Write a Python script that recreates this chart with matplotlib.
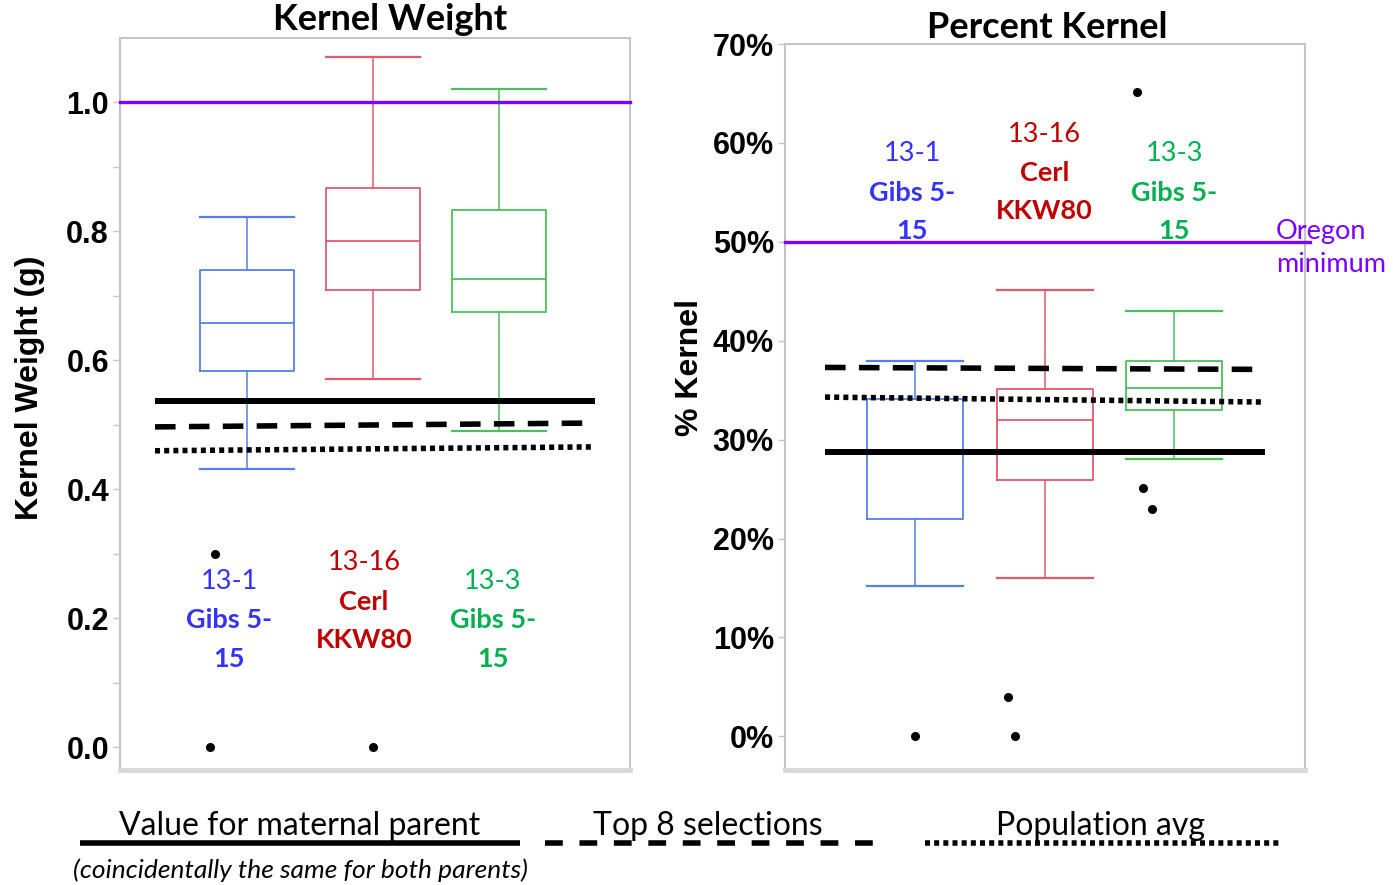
import matplotlib
matplotlib.use("Agg")
import matplotlib.pyplot as plt
from matplotlib.lines import Line2D

# ---- data ----
groups = ["13-1", "13-16", "13-3"]
parent_l1 = ["Gibs 5-", "Cerl", "Gibs 5-"]
parent_l2 = ["15", "KKW80", "15"]

# Kernel weight (g)
kw_low = [0.431, 0.571, 0.490]
kw_q1 = [0.584, 0.709, 0.675]
kw_med = [0.658, 0.786, 0.727]
kw_q3 = [0.740, 0.868, 0.834]
kw_high = [0.823, 1.070, 1.021]
kw_fliers = [[0.30, 0.0], [0.0], []]
kw_flier_dx = [[-0.25, -0.29], [0.0], []]
kw_maternal = [0.537, 0.537]
kw_top8 = [0.497, 0.503]
kw_popavg = [0.460, 0.466]
kw_oregon = 1.0
kw_ticks = [0.0, 0.2, 0.4, 0.6, 0.8, 1.0]
kw_ticklabels = ["0.0", "0.2", "0.4", "0.6", "0.8", "1.0"]

# Percent kernel (%)
pk_low = [15.2, 16.0, 28.0]
pk_q1 = [22.0, 25.9, 33.0]
pk_med = [29.0, 32.0, 35.2]
pk_q3 = [34.1, 35.1, 38.0]
pk_high = [38.0, 45.1, 43.0]
pk_fliers = [[0.0], [4.0, 0.0], [65.1, 25.1, 23.0]]
pk_flier_dx = [[0.0], [-0.28, -0.23], [-0.29, -0.24, -0.17]]
pk_maternal = [28.8, 28.8]
pk_top8 = [37.3, 37.1]
pk_popavg = [34.3, 33.8]
pk_oregon = 50.0
pk_ticks = [0, 10, 20, 30, 40, 50, 60, 70]
pk_ticklabels = ["0%", "10%", "20%", "30%", "40%", "50%", "60%", "70%"]

# ---- styling ----
box_colors = ["#5580E6", "#E05A6E", "#4CBF5A"]
text_colors = ["#3333FF", "#C00000", "#00B050"]
purple = "#7A00FF"
frame = "#C4C4C4"
SANS = ["Lato", "DejaVu Sans"]
NARROW = ["Liberation Sans Narrow", "DejaVu Sans Condensed", "Liberation Sans"]
BOLD = ["Liberation Sans", "DejaVu Sans"]

W, H = 1393, 885
fig = plt.figure(figsize=(W / 100, H / 100), dpi=100)
ax1 = fig.add_axes([120 / W, 1 - 770 / H, 510 / W, 732 / H])
ax2 = fig.add_axes([785 / W, 1 - 770 / H, 520 / W, 726 / H])

pos = [1, 2, 3]


def draw_panel(ax, low, q1, med, q3, high, fliers, fdx, maternal, top8, popavg,
               oregon, ticks, ticklabels, ylim, xlim, line_span, oregon_span):
    for i in range(3):
        st = [dict(whislo=low[i], q1=q1[i], med=med[i], q3=q3[i],
                   whishi=high[i], fliers=[])]
        c = box_colors[i]
        ax.bxp(st, positions=[pos[i]], widths=0.74, capwidths=0.74,
               showfliers=False,
               boxprops=dict(color=c, linewidth=1.3),
               medianprops=dict(color=c, linewidth=1.3),
               whiskerprops=dict(color=c, linewidth=1.1),
               capprops=dict(color=c, linewidth=1.6))
        xs = [pos[i] + d for d in fdx[i]]
        ax.plot(xs, fliers[i], linestyle="none", marker="o", markersize=5.5,
                color="black", zorder=5)
    ax.plot(oregon_span, [oregon, oregon], color=purple, lw=2.4,
            clip_on=False, zorder=4)
    ax.plot(line_span, maternal, color="black", lw=4.3,
            solid_capstyle="butt", zorder=4)
    ax.plot(line_span, top8, color="black", lw=4.0,
            linestyle=(0, (3.7, 2.4)), dash_capstyle="butt", zorder=4)
    ax.plot(line_span, popavg, color="black", lw=4.0,
            linestyle=(0, (0.9, 0.75)), dash_capstyle="butt", zorder=4)
    ax.set_ylim(*ylim)
    ax.set_xlim(*xlim)
    ax.set_xticks([])
    ax.set_yticks(ticks)
    ax.set_yticklabels(ticklabels, family=NARROW, fontweight="bold",
                       fontsize=22)
    ax.tick_params(axis="y", which="both", color=frame, length=5, width=1,
                   pad=3)
    for s in ["left", "right", "top"]:
        ax.spines[s].set_color(frame)
        ax.spines[s].set_linewidth(1.5)
    ax.spines["bottom"].set_color("#D8D8D8")
    ax.spines["bottom"].set_linewidth(3.5)


draw_panel(ax1, kw_low, kw_q1, kw_med, kw_q3, kw_high, kw_fliers, kw_flier_dx,
           kw_maternal, kw_top8, kw_popavg, kw_oregon, kw_ticks, kw_ticklabels,
           (-0.035, 1.10), (-0.008, 4.04), [0.27, 3.76], [-0.008, 4.04])
ax1.set_yticks([0.1, 0.3, 0.5, 0.7, 0.9], minor=True)

draw_panel(ax2, pk_low, pk_q1, pk_med, pk_q3, pk_high, pk_fliers, pk_flier_dx,
           pk_maternal, pk_top8, pk_popavg, pk_oregon, pk_ticks, pk_ticklabels,
           (-3.4, 70.0), (-0.004, 4.01), [0.305, 3.70], [-0.004, 4.05])

# group labels inside the panels
kw_label_y = [[0.258, 0.197, 0.137], [0.286, 0.225, 0.166], [0.258, 0.197, 0.137]]
kw_label_dx = [-0.14, -0.07, -0.05]
pk_label_y = [[58.9, 54.9, 51.1], [60.9, 57.0, 53.1], [58.9, 54.9, 51.1]]
pk_label_dx = [-0.02, 0.0, 0.0]
for ax, ly, ldx in [(ax1, kw_label_y, kw_label_dx), (ax2, pk_label_y, pk_label_dx)]:
    for i in range(3):
        x = pos[i] + ldx[i]
        c = text_colors[i]
        ax.text(x, ly[i][0], groups[i], color=c, fontsize=19.5, family=SANS,
                ha="center", va="center")
        ax.text(x, ly[i][1], parent_l1[i], color=c, fontsize=19.5, family=SANS,
                fontweight="bold", ha="center", va="center")
        ax.text(x, ly[i][2], parent_l2[i], color=c, fontsize=19.5, family=SANS,
                fontweight="bold", ha="center", va="center")

# titles and axis labels
fig.text(390 / W, 1 - 20 / H, "Kernel Weight", fontsize=26, family=SANS,
         fontweight="bold", ha="center", va="center")
fig.text(1047 / W, 1 - 28 / H, "Percent Kernel", fontsize=26, family=SANS,
         fontweight="bold", ha="center", va="center")
fig.text(30 / W, 1 - 388 / H, "Kernel Weight (g)", fontsize=23, family=BOLD,
         fontweight="bold", rotation=90, ha="center", va="center")
fig.text(690 / W, 1 - 368 / H, "% Kernel", fontsize=23, family=BOLD,
         fontweight="bold", rotation=90, ha="center", va="center")

fig.text(1276 / W, 1 - 232 / H, "Oregon", color=purple, fontsize=19.5,
         family=SANS, ha="left", va="center")
fig.text(1276 / W, 1 - 264 / H, "minimum", color=purple, fontsize=19.5,
         family=SANS, ha="left", va="center")

# bottom key
ly = 1 - 843 / H
fig.add_artist(Line2D([80 / W, 520 / W], [ly, ly], color="black", lw=4.0,
                      solid_capstyle="butt"))
fig.add_artist(Line2D([545 / W, 880 / W], [ly, ly], color="black", lw=4.0,
                      linestyle=(0, (3.2, 3.0)), dash_capstyle="butt"))
fig.add_artist(Line2D([925 / W, 1280 / W], [ly, ly], color="black", lw=4.0,
                      linestyle=(0, (0.9, 0.75)), dash_capstyle="butt"))
fig.text(300 / W, 1 - 826 / H, "Value for maternal parent", fontsize=23,
         family=SANS, ha="center", va="center")
fig.text(708 / W, 1 - 826 / H, "Top 8 selections", fontsize=23,
         family=SANS, ha="center", va="center")
fig.text(1100 / W, 1 - 826 / H, "Population avg", fontsize=23,
         family=SANS, ha="center", va="center")
fig.text(300 / W, 1 - 870 / H, "(coincidentally the same for both parents)",
         fontsize=19, family=SANS, style="italic", ha="center", va="center")

fig.savefig("out.png", dpi=100)
